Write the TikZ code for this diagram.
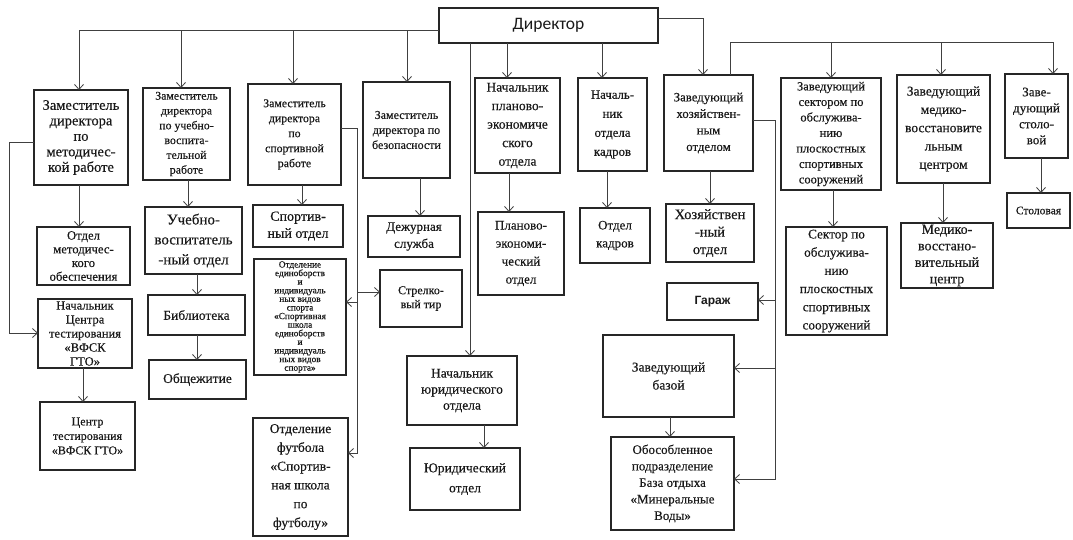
\documentclass[tikz,border=0pt]{standalone}
\usepackage{fontspec}
\setmainfont{Liberation Serif}[FakeBold=0.35]
\newfontfamily\dirfont{Carlito}
\newfontfamily\garfont{Liberation Sans}
\usetikzlibrary{arrows.meta}
\newcommand{\fsz}[2]{\fontsize{#1}{#2}\selectfont\lineskiplimit=-50pt\relax}
\newcommand{\bx}[8]{%
  \pgfmathsetmacro{\bxcx}{(#2+#4)/2}%
  \pgfmathsetmacro{\bxcy}{(#3+#5)/2}%
  \pgfmathsetmacro{\bxw}{#4-#2}%
  \pgfmathsetmacro{\bxh}{#5-#3}%
  \node[box, minimum width=\bxw pt, minimum height=\bxh pt, font=\fsz{#6}{#7}] (#1) at (\bxcx,\bxcy) {#8};}
\tikzset{
  box/.style={draw=black!85, line width=1.6pt, inner sep=0pt, outer sep=0pt, align=center, text=black!90},
  conn/.style={draw=black!75, line width=0.8pt},
  arr/.style={conn, -{Straight Barb[length=5pt,width=9pt]}},
}
\begin{document}
\begin{tikzpicture}[x=1pt,y=-1pt]
\useasboundingbox[fill=white] (0,0) rectangle (1073,539);
% director
\node[box, minimum width=219pt, minimum height=35pt, font=\dirfont\fsz{17.5}{20}] (d) at (548.5,25.5) {Директор};
% first row
\bx{zm}{34}{90}{128}{185}{14.5}{15.5}{Заместитель\\директора\\по\\методичес-\\кой работе}
\bx{zuvr}{143}{88}{230}{180}{11.8}{14.8}{Заместитель\\директора\\по учебно-\\воспита-\\тельной\\работе}
\bx{zsp}{248}{84}{341}{185}{11.8}{15}{Заместитель\\директора\\по\\спортивной\\работе}
\bx{zbez}{363}{82}{450}{178}{12}{15}{Заместитель\\директора по\\безопасности}
\bx{plan}{475}{78}{560}{173}{13.5}{18.5}{Начальник\\планово-\\экономиче\\ского\\отдела}
\bx{kadr}{578}{78}{647}{171}{12.8}{19}{Началь-\\ник\\отдела\\кадров}
\bx{zhoz}{664}{75}{753}{171}{12.8}{16.5}{Заведующий\\хозяйствен-\\ным\\отделом}
\bx{zsec}{781}{78}{881}{190}{12.5}{15.5}{Заведующий\\сектором по\\обслужива-\\нию\\плоскостных\\спортивных\\сооружений}
\bx{zmed}{897}{75}{990}{183}{13.5}{18.3}{Заведующий\\медико-\\восстановите\\льным\\центром}
\bx{zstol}{1005}{74}{1068}{158}{13}{16}{Заве-\\дующий\\столо-\\вой}
% lower boxes
\bx{otm}{37}{227}{130}{285}{12.7}{13.7}{Отдел\\методичес-\\кого\\обеспечения}
\bx{nct}{38}{299}{132}{368}{12.5}{14}{Начальник\\Центра\\тестирования\\«ВФСК\\ГТО»}
\bx{ctest}{40}{402}{135}{470}{12}{14.5}{Центр\\тестирования\\«ВФСК ГТО»}
\bx{uvo}{145}{207}{242}{274}{15}{20}{Учебно-\\воспитатель\\-ный отдел}
\bx{bibl}{148}{295}{245}{335}{13.5}{16}{Библиотека}
\bx{obsh}{149}{360}{246}{399}{13.5}{16}{Общежитие}
\bx{sport}{253}{205}{343}{247}{14}{17}{Спортив-\\ный отдел}
\bx{edin}{254}{259}{346}{375}{9.3}{8.6}{Отделение\\единоборств\\и\\индивидуаль\\ных видов\\спорта\\«Спортивная\\школа\\единоборств\\и\\индивидуаль\\ных видов\\спорта»}
\bx{foot}{253}{418}{348}{536}{13.5}{18.8}{Отделение\\футбола\\«Спортив-\\ная школа\\по\\футболу»}
\bx{dezh}{368}{216}{460}{257}{13}{17}{Дежурная\\служба}
\bx{strel}{380}{270}{462}{327}{12}{14}{Стрелко-\\вый тир}
\bx{jur}{407}{356}{517}{425}{13.5}{16}{Начальник\\юридического\\отдела}
\bx{jurotd}{410}{448}{520}{510}{13.5}{20}{Юридический\\отдел}
\bx{planotd}{478}{212}{564}{295}{13}{18}{Планово-\\экономи-\\ческий\\отдел}
\bx{otdkadr}{580}{208}{650}{263}{13}{18}{Отдел\\кадров}
\bx{hozotd}{666}{204}{754}{262}{14.5}{17.5}{Хозяйствен\\-ный\\отдел}
\bx{garage}{667}{283}{758}{320}{12}{14}{\garfont\bfseries Гараж}
\bx{baza}{603}{335}{734}{417}{13.5}{18}{Заведующий\\базой}
\bx{obos}{611}{437}{734}{530}{13}{16.5}{Обособленное\\подразделение\\База отдыха\\«Минеральные\\Воды»}
\bx{sec}{786}{227}{887}{335}{13.2}{18.2}{Сектор по\\обслужива-\\нию\\плоскостных\\спортивных\\сооружений}
\bx{medc}{901}{223}{993}{288}{14}{16.5}{Медико-\\восстано-\\вительный\\центр}
\bx{stol}{1007}{193}{1070}{228}{11.5}{14}{Столовая}
% left bus from director
\coordinate (b1) at (79,30);
\coordinate (b2) at (181,30);
\coordinate (b3) at (293,30);
\coordinate (b4) at (407,30);
\draw[conn] (d.west |- b1) -- (b1);
\draw[arr] (b1) -- (b1 |- zm.north);
\draw[arr] (b2) -- (b2 |- zuvr.north);
\draw[arr] (b3) -- (b3 |- zsp.north);
\draw[arr] (b4) -- (b4 |- zbez.north);
% director bottom drops
\coordinate (j1) at (470,43);
\coordinate (p1) at (507,43);
\coordinate (k1) at (602,43);
\draw[arr] (j1 |- d.south) -- (j1 |- jur.north);
\draw[arr] (p1 |- d.south) -- (p1 |- plan.north);
\draw[arr] (k1 |- d.south) -- (k1 |- kadr.north);
% director right
\coordinate (dr) at (703,18);
\draw[arr] (d.east |- dr) -- (dr) -- (dr |- zhoz.north);
% right bus
\coordinate (r0) at (730,42);
\coordinate (r1) at (831,42);
\coordinate (r2) at (941,42);
\coordinate (r3) at (1053,42);
\draw[conn] (r0 |- zhoz.north) -- (r0) -- (r3);
\draw[arr] (r1) -- (r1 |- zsec.north);
\draw[arr] (r2) -- (r2 |- zmed.north);
\draw[arr] (r3) -- (r3 |- zstol.north);
% left loop
\coordinate (l1) at (9,142);
\coordinate (l2) at (9,333);
\draw[arr] (zm.west |- l1) -- (l1) -- (l2) -- (nct.west |- l2);
% sport right line
\coordinate (s1) at (357,128);
\coordinate (s2) at (357,453);
\coordinate (s3) at (357,302);
\coordinate (s4) at (357,292);
\draw[arr] (zsp.east |- s1) -- (s1) -- (s2) -- (foot.east |- s2);
\draw[arr] (s3) -- (edin.east |- s3);
\draw[arr] (s4) -- (strel.west |- s4);
% hoz right line
\coordinate (h1) at (775,120);
\coordinate (h2) at (775,479);
\coordinate (h3) at (775,300);
\coordinate (h4) at (775,368);
\draw[arr] (zhoz.east |- h1) -- (h1) -- (h2) -- (obos.east |- h2);
\draw[arr] (h3) -- (garage.east |- h3);
\draw[arr] (h4) -- (baza.east |- h4);
% vertical arrows
\draw[arr] (zm.south -| 79,0) -- (otm.north -| 79,0);
\draw[arr] (nct.south -| 83,0) -- (ctest.north -| 83,0);
\draw[arr] (zuvr.south -| 188,0) -- (uvo.north -| 188,0);
\draw[arr] (uvo.south -| 197,0) -- (bibl.north -| 197,0);
\draw[arr] (bibl.south -| 197,0) -- (obsh.north -| 197,0);
\draw[arr] (zsp.south -| 302,0) -- (sport.north -| 302,0);
\draw[arr] (zbez.south -| 420,0) -- (dezh.north -| 420,0);
\draw[arr] (jur.south -| 484,0) -- (jurotd.north -| 484,0);
\draw[arr] (plan.south -| 509,0) -- (planotd.north -| 509,0);
\draw[arr] (kadr.south -| 607,0) -- (otdkadr.north -| 607,0);
\draw[arr] (zhoz.south -| 710,0) -- (hozotd.north -| 710,0);
\draw[arr] (baza.south -| 670,0) -- (obos.north -| 670,0);
\draw[arr] (zsec.south -| 833,0) -- (sec.north -| 833,0);
\draw[arr] (zmed.south -| 943,0) -- (medc.north -| 943,0);
\draw[arr] (zstol.south -| 1041,0) -- (stol.north -| 1041,0);
\end{tikzpicture}
\end{document}
